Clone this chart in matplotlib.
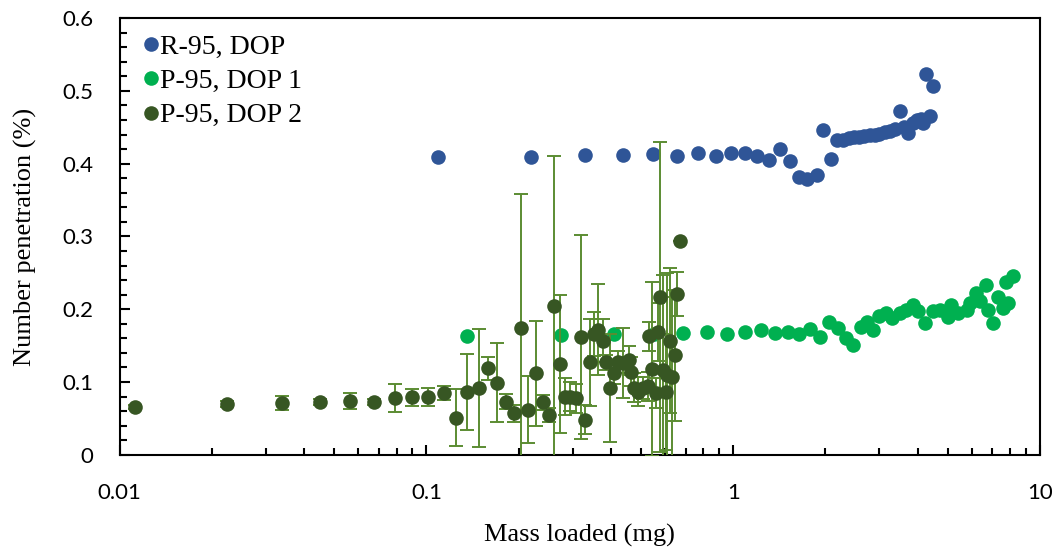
import numpy as np
import matplotlib
matplotlib.use('Agg')
import matplotlib.pyplot as plt
from matplotlib.ticker import FixedLocator, NullFormatter, MultipleLocator

# R-95, DOP
mass_r95 = [0.109, 0.219, 0.328, 0.438, 0.548, 0.656, 0.769, 0.878, 0.987, 1.09, 1.20, 1.31, 1.42,
            1.53, 1.64, 1.74, 1.87, 1.96, 2.08, 2.18, 2.28, 2.38, 2.48, 2.58, 2.68, 2.79, 2.90, 3.00,
            3.12, 3.24, 3.36, 3.49, 3.60, 3.72, 3.85, 3.98, 4.10, 4.16, 4.25, 4.38, 4.48]
pen_r95 = [0.409, 0.409, 0.412, 0.412, 0.413, 0.411, 0.414, 0.411, 0.414, 0.414, 0.410, 0.405, 0.420,
           0.404, 0.382, 0.379, 0.385, 0.446, 0.407, 0.432, 0.433, 0.435, 0.436, 0.437, 0.438, 0.439, 0.440, 0.441,
           0.443, 0.445, 0.447, 0.473, 0.450, 0.442, 0.456, 0.460, 0.462, 0.456, 0.523, 0.465, 0.507]

# P-95, DOP 1
mass_p95_1 = [0.136, 0.274, 0.409, 0.55, 0.684, 0.822, 0.955, 1.096, 1.23, 1.37, 1.51, 1.64, 1.78, 1.92,
              2.06, 2.19, 2.34, 2.46, 2.62, 2.74, 2.86, 2.99, 3.14, 3.30, 3.49, 3.67, 3.86, 4.01, 4.21,
              4.49, 4.72, 5.02, 5.15, 5.41, 5.77, 5.91, 6.21, 6.37, 6.69, 6.77, 7.03, 7.30, 7.59, 7.78,
              7.87, 8.18]
pen_p95_1 = [0.163, 0.164, 0.166, 0.166, 0.168, 0.169, 0.166, 0.169, 0.172, 0.167, 0.169, 0.166, 0.173, 0.162,
             0.182, 0.174, 0.160, 0.151, 0.176, 0.183, 0.172, 0.191, 0.195, 0.188, 0.195, 0.199, 0.206, 0.197, 0.181,
             0.197, 0.199, 0.190, 0.206, 0.195, 0.199, 0.208, 0.222, 0.211, 0.234, 0.199, 0.181, 0.217, 0.202, 0.238,
             0.208, 0.245]

# P-95, DOP 2 (with error bars)
mass_p95_2 = [0.0112, 0.0224, 0.0337, 0.0449, 0.0562, 0.0673, 0.0788, 0.0898, 0.101, 0.114, 0.125, 0.136,
              0.148, 0.159, 0.170, 0.181, 0.193, 0.204, 0.215, 0.227, 0.239, 0.250, 0.261, 0.272, 0.282,
              0.293, 0.307, 0.318, 0.328, 0.341, 0.352, 0.363, 0.375, 0.386, 0.396, 0.409, 0.422, 0.438,
              0.457, 0.466, 0.474, 0.490, 0.509, 0.528, 0.531, 0.542, 0.559, 0.569, 0.576, 0.591, 0.603,
              0.609, 0.621, 0.634, 0.648, 0.656, 0.670]
pen_p95_2 = [0.066, 0.070, 0.071, 0.073, 0.074, 0.073, 0.078, 0.079, 0.079, 0.085, 0.051, 0.086,
             0.092, 0.119, 0.099, 0.073, 0.057, 0.174, 0.062, 0.112, 0.072, 0.055, 0.204, 0.125, 0.080,
             0.080, 0.078, 0.162, 0.048, 0.127, 0.166, 0.172, 0.157, 0.127, 0.092, 0.112, 0.128, 0.126,
             0.130, 0.114, 0.092, 0.087, 0.092, 0.094, 0.163, 0.118, 0.085, 0.169, 0.217, 0.117, 0.086,
             0.110, 0.157, 0.107, 0.137, 0.221, 0.294]
err_p95_2 = [0.003, 0.004, 0.0095, 0.004, 0.011, 0.004, 0.019, 0.012, 0.0125, 0.010, 0.039, 0.052,
             0.081, 0.016, 0.054, 0.010, 0.012, 0.185, 0.046, 0.072, 0.010, 0.010, 0.207, 0.095, 0.025,
             0.020, 0.020, 0.140, 0.020, 0.060, 0.030, 0.063, 0.030, 0.010, 0.074, 0.015, 0.015, 0.048,
             0.020, 0.020, 0.020, 0.020, 0.015, 0.020, 0.020, 0.120, 0.020, 0.040, 0.213, 0.130, 0.080,
             0.140, 0.100, 0.110, 0.090, 0.030, 0.0]

c_blue = '#2f5597'
c_green = '#00b050'
c_dark = '#375623'
c_err = '#5b8c32'

plt.rcParams['font.family'] = 'Liberation Serif'

fig = plt.figure(figsize=(10.6, 5.48), dpi=100)
ax = fig.add_axes([0.113, 0.170, 0.868, 0.797])

ax.plot(mass_r95, pen_r95, 'o', color=c_blue, ms=10.5, mec='none', label='R-95, DOP', zorder=2)
ax.plot(mass_p95_1, pen_p95_1, 'o', color=c_green, ms=10.5, mec='none', label='P-95, DOP 1', zorder=3)
ax.errorbar(mass_p95_2, pen_p95_2, yerr=err_p95_2, fmt='none', ecolor=c_err, elinewidth=1.4,
            capsize=5, capthick=1.4, zorder=4)
ax.plot(mass_p95_2, pen_p95_2, 'o', color=c_dark, ms=10.5, mec='none', label='P-95, DOP 2', zorder=5)

ax.set_xscale('log')
ax.set_xlim(0.01, 10)
ax.set_ylim(0, 0.6)
ax.set_xticks([0.01, 0.1, 1, 10])
ax.set_xticklabels(['0.01', '0.1', '1', '10'])
ax.xaxis.set_minor_locator(FixedLocator([m * 10.0 ** e for e in (-2, -1, 0) for m in range(2, 10)]))
ax.xaxis.set_minor_formatter(NullFormatter())
ax.set_yticks(np.arange(0, 0.61, 0.1))
ax.set_yticklabels(['0', '0.1', '0.2', '0.3', '0.4', '0.5', '0.6'])
ax.yaxis.set_minor_locator(MultipleLocator(0.02))

ax.tick_params(which='both', direction='in', top=False, right=False, width=1.5)
ax.tick_params(which='major', length=7, labelsize=16)
ax.tick_params(axis='y', which='major', pad=19)
ax.tick_params(axis='x', which='major', pad=20)
ax.tick_params(which='minor', length=5)
for lab in ax.get_xticklabels() + ax.get_yticklabels():
    lab.set_family('Lato')
for sp in ax.spines.values():
    sp.set_linewidth(1.5)

ax.set_xlabel('Mass loaded (mg)', fontsize=19, labelpad=15)
ax.set_ylabel('Number penetration (%)', fontsize=19, labelpad=18)

ax.legend(loc='upper left', bbox_to_anchor=(0.013, 0.995), frameon=False, fontsize=20,
          handletextpad=0.12, labelspacing=0.32, borderaxespad=0.2, handlelength=0.4, borderpad=0.3)

fig.savefig('out.png', dpi=100)
